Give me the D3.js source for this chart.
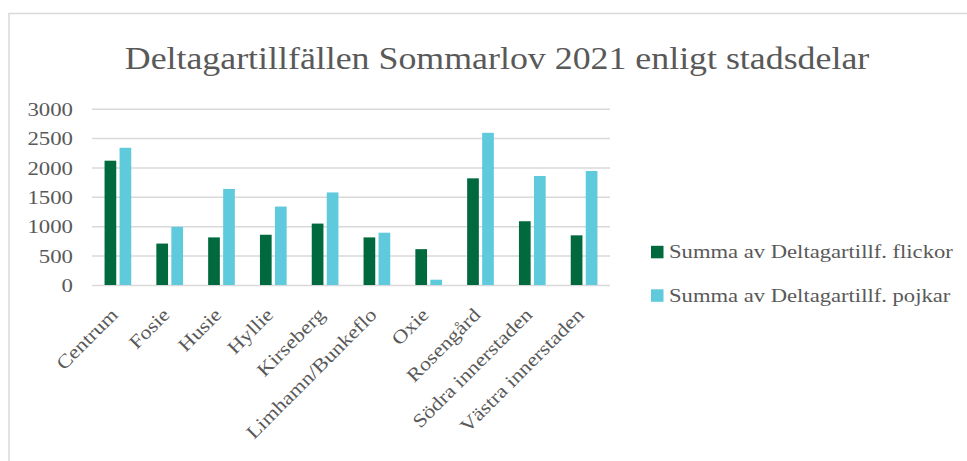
<!DOCTYPE html>
<html>
<head>
<meta charset="utf-8">
<script src="https://cdn.jsdelivr.net/npm/d3@7"></script>
<style>
  html, body { margin: 0; padding: 0; background: #fff; }
  svg { display: block; }
  text { font-family: "Liberation Serif", "DejaVu Serif", serif; fill: #595959; }
</style>
</head>
<body>
<svg id="chart" width="967" height="461"></svg>
<script>
// Stadsdelar och deltagartillfällen per kön
const categories = ["Centrum", "Fosie", "Husie", "Hyllie", "Kirseberg", "Limhamn/Bunkeflo",
  "Oxie", "Rosengård", "Södra innerstaden", "Västra innerstaden"];
const flickor = [2115, 705, 810, 855, 1045, 810, 610, 1815, 1085, 845];
const pojkar = [2335, 990, 1635, 1335, 1575, 890, 90, 2590, 1855, 1940];
const seriesNames = ["Summa av Deltagartillf. flickor", "Summa av Deltagartillf. pojkar"];
const seriesColors = ["#006A3E", "#5FCADB"];
const yTicks = [0, 500, 1000, 1500, 2000, 2500, 3000];
const title = "Deltagartillfällen Sommarlov 2021 enligt stadsdelar";

const FONT = '"Liberation Serif", "DejaVu Serif", serif';
const svg = d3.select("#chart");

// Garamond-liknande bredd: sträck ut texten horisontellt
function widen(sel, factor) {
  sel.each(function () {
    const len = this.getComputedTextLength();
    d3.select(this).attr("textLength", len * factor).attr("lengthAdjust", "spacingAndGlyphs");
  });
}

// Ram runt diagramytan
svg.append("rect")
  .attr("x", 9).attr("y", 13.5)
  .attr("width", 970).attr("height", 470)
  .attr("fill", "none").attr("stroke", "#d9d9d9").attr("stroke-width", 1.5);

const plot = { left: 92, right: 610, top: 108.7, bottom: 285 };

const x = d3.scaleBand().domain(categories).range([plot.left, plot.right]).paddingInner(0).paddingOuter(0);
const y = d3.scaleLinear().domain([0, 3000]).range([plot.bottom, plot.top]);

// Rubrik
svg.append("text")
  .attr("x", 497).attr("y", 69)
  .attr("text-anchor", "middle")
  .attr("font-size", 32)
  .text(title)
  .call(widen, 1.12);

// Stödlinjer
const grid = svg.append("g").call(
  d3.axisLeft(y).tickValues(yTicks).tickSize(-(plot.right - plot.left)).tickFormat("")
).attr("transform", `translate(${plot.left},0)`);
grid.select(".domain").remove();
grid.selectAll("line").attr("stroke", "#d9d9d9").attr("stroke-width", 1.5);

// Y-axelns etiketter
const yAxis = svg.append("g").attr("transform", `translate(${plot.left},0)`)
  .call(d3.axisLeft(y).tickValues(yTicks).tickSize(0).tickPadding(19).tickFormat(d3.format("d")));
yAxis.select(".domain").remove();
yAxis.selectAll("text").attr("font-size", 19.5).attr("fill", "#595959")
  .attr("font-family", FONT).attr("dy", "0.34em")
  .call(widen, 1.17);

// Staplar
const barW = 11.7, gap = 3.3;
const groups = svg.append("g").selectAll("g").data(categories).enter().append("g")
  .attr("transform", d => `translate(${x(d) + x.bandwidth() / 2},0)`);
[flickor, pojkar].forEach((vals, si) => {
  groups.append("rect")
    .attr("x", si === 0 ? -(barW + gap / 2) : gap / 2)
    .attr("width", barW)
    .attr("y", (d, i) => y(vals[i]))
    .attr("height", (d, i) => y(0) - y(vals[i]))
    .attr("fill", seriesColors[si]);
});

// X-axelns etiketter, roterade 45°
const xAxis = svg.append("g").attr("transform", `translate(0,${plot.bottom})`)
  .call(d3.axisBottom(x).tickSize(0).tickPadding(0));
xAxis.select(".domain").remove();
xAxis.selectAll(".tick text")
  .attr("font-size", 19).attr("fill", "#595959")
  .attr("font-family", FONT)
  .attr("text-anchor", "end")
  .attr("y", 0).attr("dy", 0)
  .attr("transform", "translate(1,31) rotate(-45)")
  .call(widen, 1.17);

// Teckenförklaring
const legend = svg.append("g");
const legendY = [252, 295.5];
seriesNames.forEach((name, i) => {
  legend.append("rect")
    .attr("x", 651).attr("y", legendY[i] - 6.2)
    .attr("width", 12.5).attr("height", 12.5)
    .attr("fill", seriesColors[i]);
  legend.append("text")
    .attr("x", 669).attr("y", legendY[i] + 6.3)
    .attr("font-size", 19)
    .text(name)
    .call(widen, 1.19);
});
</script>
</body>
</html>
